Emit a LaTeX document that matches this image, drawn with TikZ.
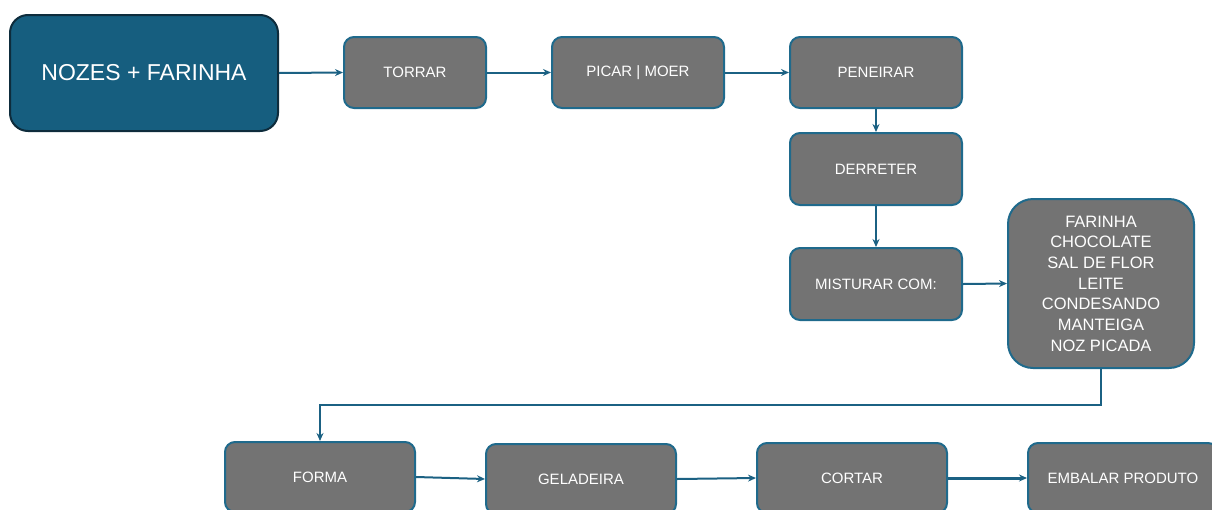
\documentclass[tikz,border=0pt]{standalone}
\usepackage{fontspec}
\setmainfont{Liberation Sans}
\usetikzlibrary{arrows.meta}
\definecolor{boxgray}{HTML}{737373}
\definecolor{boxedge}{HTML}{1F6A8C}
\definecolor{startfill}{HTML}{165E7F}
\definecolor{startedge}{HTML}{0E2C3C}
\definecolor{arrowc}{HTML}{1B6183}
\begin{document}
\begin{tikzpicture}[x=1pt,y=-1pt,
  stepbox/.style={draw=boxedge, fill=boxgray, line width=2pt, rounded corners=10pt,
    text=white, font=\fontsize{15}{17}\selectfont, inner sep=0pt, align=center},
  startbox/.style={draw=startedge, fill=startfill, line width=2pt, rounded corners=18pt,
    text=white, font=\fontsize{23}{26}\selectfont, inner sep=0pt},
  arr/.style={draw=arrowc, line width=2pt, -{Stealth[length=8pt,width=7pt]}}]
\useasboundingbox (0,0) rectangle (1212,509);
\clip (0,0) rectangle (1212,509);
\node[startbox, minimum width=268pt, minimum height=116pt] (start) at (144,73) {NOZES + FARINHA};
\node[stepbox, minimum width=142pt, minimum height=71pt] (torrar) at (415,72.5) {TORRAR};
\node[stepbox, minimum width=172pt, minimum height=71pt] (picar) at (638,72.5) {PICAR | MOER};
\node[stepbox, minimum width=172pt, minimum height=71pt] (peneirar) at (876,72.5) {PENEIRAR};
\node[stepbox, minimum width=172pt, minimum height=72pt] (derreter) at (876,169) {DERRETER};
\node[stepbox, minimum width=172pt, minimum height=72pt] (misturar) at (876,284) {MISTURAR COM:};
\node[stepbox, rounded corners=25pt, minimum width=186pt, minimum height=169pt,
  font=\fontsize{16.5}{20.7}\selectfont] (lista) at (1101,283.5)
  {FARINHA\\CHOCOLATE\\SAL DE FLOR\\LEITE\\CONDESANDO\\MANTEIGA\\NOZ PICADA};
\node[stepbox, minimum width=190pt, minimum height=70pt] (forma) at (320,477) {FORMA};
\node[stepbox, minimum width=190pt, minimum height=70pt] (geladeira) at (581,479) {GELADEIRA};
\node[stepbox, minimum width=190pt, minimum height=70pt] (cortar) at (852,478) {CORTAR};
\node[stepbox, minimum width=190pt, minimum height=70pt] (embalar) at (1123,478) {EMBALAR PRODUTO};
\coordinate (turn) at (1101,405);
\draw[arr] (start.east) -- (torrar.west);
\draw[arr] (torrar.east) -- (picar.west);
\draw[arr] (picar.east) -- (peneirar.west);
\draw[arr] (peneirar.south) -- (derreter.north);
\draw[arr] (derreter.south) -- (misturar.north);
\draw[arr] (misturar.east) -- (lista.west);
\draw[arr] (lista.south) -- (turn) -| (forma.north);
\draw[arr] (forma.east) -- (geladeira.west);
\draw[arr] (geladeira.east) -- (cortar.west);
\draw[arr, line width=3pt] (cortar.east) -- (embalar.west);
\end{tikzpicture}
\end{document}
